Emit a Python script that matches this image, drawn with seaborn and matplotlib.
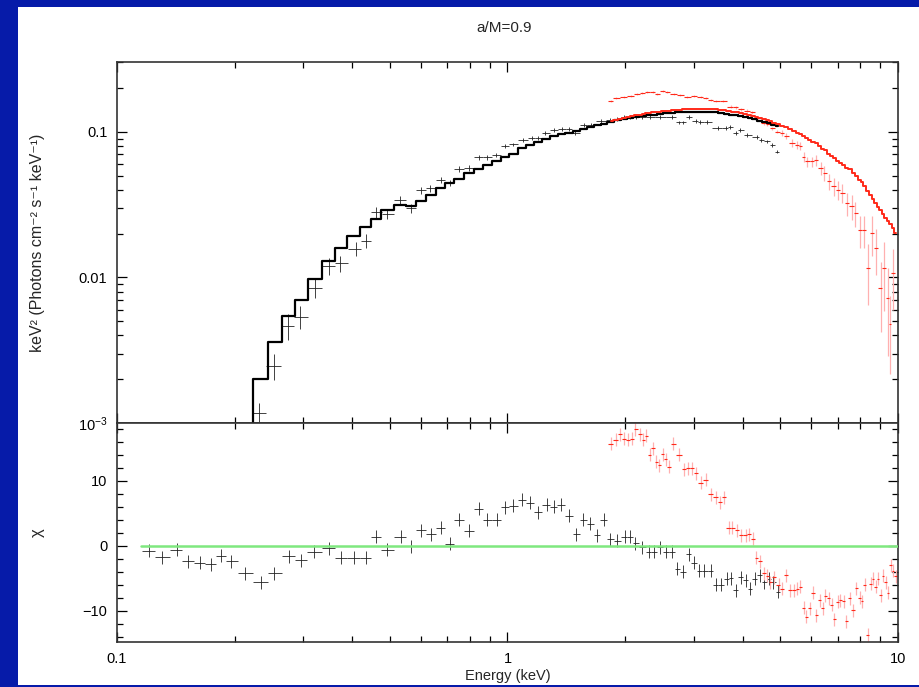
import numpy as np
import pandas as pd
import matplotlib
matplotlib.use("Agg")
import matplotlib.pyplot as plt
import seaborn as sns
from matplotlib.patches import Rectangle
from matplotlib.ticker import FixedLocator, FixedFormatter, LogLocator, NullFormatter, MultipleLocator

# ---------------- data ----------------
title_text = "a/M=0.9"

# black spectrum: unfolded data points (top panel)
black_E = [0.231, 0.252, 0.274, 0.295, 0.321, 0.349, 0.373, 0.409, 0.435, 0.460,
           0.492, 0.532, 0.565, 0.599, 0.635, 0.676, 0.712, 0.751, 0.796, 0.845,
           0.887, 0.937, 0.984, 1.034, 1.097, 1.157, 1.196, 1.251, 1.314, 1.381,
           1.436, 1.493, 1.568, 1.638, 1.738, 1.83, 1.91, 1.99, 2.06, 2.13,
           2.21, 2.32, 2.46, 2.64, 2.75, 2.82, 2.91, 3.03, 3.12, 3.25,
           3.45, 3.62, 3.72, 3.84, 3.95, 4.11, 4.36, 4.45, 4.62, 4.77, 4.90]
black_flux = [0.00117, 0.00247, 0.00464, 0.00538, 0.00849, 0.0120, 0.0125, 0.0157, 0.0179, 0.0280,
              0.0274, 0.0339, 0.0300, 0.0397, 0.0410, 0.0469, 0.0445, 0.0558, 0.0564, 0.0671,
              0.0671, 0.0696, 0.0800, 0.0820, 0.0881, 0.0905, 0.0910, 0.0980, 0.1030, 0.1050,
              0.1050, 0.0980, 0.1117, 0.1117, 0.1195, 0.121, 0.123, 0.126, 0.127, 0.127,
              0.126, 0.126, 0.127, 0.127, 0.116, 0.116, 0.127, 0.1195, 0.117, 0.117,
              0.106, 0.107, 0.108, 0.098, 0.103, 0.0954, 0.092, 0.088, 0.086, 0.0815, 0.0733]
black_relerr = [0.17, 0.20, 0.20, 0.18, 0.15, 0.13, 0.13, 0.11, 0.11, 0.08,
                0.08, 0.07, 0.07, 0.06, 0.06, 0.05, 0.05, 0.045, 0.045, 0.04,
                0.04, 0.035, 0.035, 0.03, 0.03, 0.03, 0.03, 0.03, 0.03, 0.03,
                0.03, 0.03, 0.03, 0.03, 0.03, 0.03, 0.03, 0.03, 0.03, 0.03,
                0.03, 0.03, 0.03, 0.03, 0.03, 0.03, 0.03, 0.03, 0.03, 0.03,
                0.03, 0.03, 0.03, 0.03, 0.03, 0.03, 0.03, 0.03, 0.03, 0.03, 0.03]

# black spectrum: residual bins (bottom panel) and folded model (top panel)
black_bin_E = [0.1206, 0.1305, 0.1426, 0.1518, 0.1629, 0.1736, 0.1848, 0.1953, 0.2121, 0.2331,
               0.2531, 0.2754, 0.2951, 0.3204, 0.3486, 0.3736, 0.4042, 0.4329, 0.4592, 0.4919,
               0.5321, 0.5645, 0.5988, 0.6351, 0.6738, 0.7115, 0.7503, 0.7962, 0.8444, 0.8871,
               0.9372, 0.984, 1.034, 1.091, 1.141, 1.196, 1.259, 1.314, 1.372, 1.435,
               1.502, 1.563, 1.625, 1.697, 1.764, 1.828, 1.910, 1.994, 2.057, 2.127,
               2.213, 2.301, 2.370, 2.455, 2.539, 2.641, 2.720, 2.818, 2.912, 3.000,
               3.102, 3.195, 3.311, 3.410, 3.512, 3.638, 3.725, 3.837, 3.951, 4.069,
               4.174, 4.291, 4.428, 4.551, 4.669, 4.792, 4.923]
black_chi = [-0.76, -1.78, -0.6, -2.4, -2.6, -2.8, -1.5, -2.4, -4.2, -5.6,
             -4.2, -1.6, -2.2, -0.9, -0.35, -1.8, -1.8, -1.8, 1.4, -0.6,
             1.4, -0.1, 2.4, 1.8, 2.8, 0.35, 4.0, 2.3, 5.7, 4.0,
             4.0, 5.9, 6.2, 7.1, 6.6, 5.2, 6.3, 6.0, 6.3, 4.6,
             1.8, 4.0, 3.4, 1.6, 4.0, 1.0, 0.76, 1.4, 1.4, 0.4,
             -0.25, -0.9, -0.9, -0.25, -0.9, -0.9, -3.55, -3.96, -1.27, -2.64,
             -3.8, -3.8, -3.8, -6.0, -6.0, -5.1, -5.0, -6.85, -4.8, -5.3,
             -6.6, -5.1, -4.5, -5.6, -5.1, -5.6, -7.1]
# model from bin 9 (0.2121 keV) onward
black_model = [0.0005, 0.0020, 0.0036, 0.00543, 0.0070, 0.0097, 0.0129, 0.0159, 0.0194, 0.0221,
               0.0252, 0.0289, 0.0313, 0.0308, 0.0337, 0.037, 0.041, 0.0445, 0.0476, 0.052,
               0.0558, 0.0594, 0.0626, 0.0667, 0.0703, 0.077, 0.081, 0.085, 0.089, 0.093,
               0.096, 0.099, 0.102, 0.105, 0.108, 0.111, 0.114, 0.117, 0.120, 0.122,
               0.124, 0.126, 0.128, 0.130, 0.131, 0.133, 0.134, 0.135, 0.136, 0.137,
               0.1375, 0.138, 0.138, 0.1375, 0.137, 0.136, 0.135, 0.133, 0.1315, 0.130,
               0.128, 0.126, 0.124, 0.122, 0.1195, 0.117, 0.1145, 0.112, 0.109]

# red spectrum: unfolded data points (top panel)
red_E = [1.836, 1.891, 1.986, 2.066, 2.148, 2.213, 2.279, 2.361, 2.416, 2.499,
         2.565, 2.664, 2.773, 2.885, 3.000, 3.121, 3.214, 3.311, 3.428, 3.566,
         3.725, 3.837, 3.951, 4.110, 4.233, 4.360, 4.535, 4.624, 4.763, 4.907,
         5.052, 5.152, 5.358, 5.519, 5.627, 5.738, 5.851, 6.024, 6.152, 6.347,
         6.475, 6.649, 6.853, 7.011, 7.196, 7.402, 7.619, 7.773, 7.983, 8.172,
         8.369, 8.588, 8.758, 9.020, 9.198, 9.417, 9.527, 9.721]
red_flux = [0.164, 0.170, 0.173, 0.1765, 0.181, 0.184, 0.189, 0.187, 0.182, 0.191,
            0.187, 0.182, 0.179, 0.174, 0.176, 0.173, 0.172, 0.166, 0.162, 0.162,
            0.149, 0.148, 0.143, 0.140, 0.136, 0.124, 0.115, 0.113, 0.106, 0.1005,
            0.0985, 0.094, 0.0837, 0.0815, 0.080, 0.0677, 0.0626, 0.0626, 0.064, 0.0564,
            0.052, 0.0457, 0.0422, 0.040, 0.038, 0.0324, 0.0308, 0.0277, 0.0213, 0.0213,
            0.0117, 0.0202, 0.016, 0.0085, 0.0117, 0.0072, 0.0048, 0.0108]
red_relerr = [0.015] * 20 + [0.025] * 10 + \
             [0.05, 0.05, 0.06, 0.06, 0.06, 0.08, 0.08, 0.08, 0.09, 0.10,
              0.12, 0.13, 0.14, 0.15, 0.15, 0.18, 0.20, 0.20, 0.25, 0.25,
              0.45, 0.30, 0.35, 0.50, 0.50, 0.60, 0.55, 0.45]

# red spectrum: residual bins (bottom panel) and folded model (top panel)
red_bin_E = [1.836, 1.891, 1.939, 1.986, 2.033, 2.078, 2.127, 2.182, 2.226, 2.266,
             2.314, 2.361, 2.407, 2.440, 2.498, 2.539, 2.589, 2.657, 2.757, 2.828,
             2.895, 2.972, 3.030, 3.121, 3.214, 3.311, 3.410, 3.491, 3.581, 3.688,
             3.763, 3.875, 3.967, 4.069, 4.149, 4.248, 4.341, 4.428, 4.533, 4.624,
             4.715, 4.808, 4.951, 5.052, 5.172, 5.283, 5.410, 5.519, 5.627, 5.738,
             5.830, 5.943, 6.063, 6.182, 6.304, 6.431, 6.519, 6.649, 6.783, 6.876,
             7.011, 7.124, 7.264, 7.381, 7.526, 7.678, 7.829, 7.983, 8.096, 8.222,
             8.369, 8.504, 8.640, 8.758, 8.899, 9.020, 9.165, 9.290, 9.417, 9.568,
             9.721, 9.854]
red_chi = [15.7, 16.3, 17.2, 16.5, 16.3, 16.5, 17.9, 17.2, 16.3, 16.9,
           14.0, 15.0, 12.9, 12.4, 14.1, 13.3, 12.2, 15.7, 14.0, 11.8,
           11.9, 11.9, 11.2, 9.7, 10.2, 7.9, 7.5, 6.7, 7.5, 2.8,
           2.8, 2.4, 1.6, 1.6, 1.8, 1.1, -1.8, -2.4, -4.2, -4.6,
           -5.6, -4.8, -6.0, -6.6, -4.5, -6.85, -6.85, -6.6, -6.3, -9.5,
           -10.9, -9.6, -7.2, -10.7, -8.4, -9.6, -7.7, -8.1, -9.1, -11.3,
           -8.6, -8.4, -8.5, -11.6, -8.1, -9.9, -6.5, -8.0, -8.5, -6.0,
           -13.7, -5.8, -5.1, -6.3, -5.1, -7.6, -4.6, -5.6, -7.2, -3.0,
           -3.8, -4.7]
red_model = [0.118, 0.120, 0.122, 0.124, 0.126, 0.128, 0.130, 0.131, 0.1325, 0.134,
             0.135, 0.136, 0.137, 0.138, 0.139, 0.1395, 0.140, 0.141, 0.142, 0.1428,
             0.1433, 0.1437, 0.1437, 0.1437, 0.1435, 0.143, 0.1425, 0.142, 0.141, 0.1395,
             0.138, 0.136, 0.1345, 0.1328, 0.1315, 0.129, 0.127, 0.125, 0.1225, 0.120,
             0.118, 0.1158, 0.1125, 0.1105, 0.108, 0.105, 0.102, 0.099, 0.096, 0.093,
             0.0905, 0.0877, 0.0857, 0.0838, 0.080, 0.0765, 0.0745, 0.071, 0.068, 0.066,
             0.0635, 0.0613, 0.059, 0.0568, 0.0552, 0.0525, 0.050, 0.047, 0.045, 0.0425,
             0.039, 0.0368, 0.0345, 0.0325, 0.0305, 0.029, 0.0272, 0.0258, 0.0245, 0.0232,
             0.0219, 0.0202]

zero_line_E = [0.115, 10.0]
zero_line_chi = [0.0, 0.0]

# ---------------- styling ----------------
sns.set_style("ticks")
plt.rcParams['font.family'] = ['Liberation Sans', 'DejaVu Sans']
plt.rcParams['mathtext.fontset'] = 'custom'
plt.rcParams['mathtext.rm'] = 'Liberation Sans'
plt.rcParams['mathtext.it'] = 'Liberation Sans:italic'

FRAME_BLUE = '#061ba9'
RED = '#ff2a1a'
PINK = '#ffb0b0'
DATA_BLACK = '#222222'


def half_widths(E):
    E = np.asarray(E, float)
    lg = np.log10(E)
    d = np.diff(lg)
    left = np.r_[d[0], d] / 2
    right = np.r_[d, d[-1]] / 2
    return np.vstack([E - 10 ** (lg - left), 10 ** (lg + right) - E])


fig = plt.figure(figsize=(9.19, 6.87), dpi=100)
fig.patch.set_facecolor('white')
W, H = 919.0, 687.0
left, right = 117 / W, 898 / W
ax1 = fig.add_axes([left, 1 - 423 / H, right - left, (423 - 62) / H])
ax2 = fig.add_axes([left, 1 - 642 / H, right - left, (642 - 423) / H], sharex=ax1)

# --- top panel ---
bE = np.array(black_E)
bF = np.array(black_flux)
ax1.errorbar(bE, bF, xerr=half_widths(bE), fmt='none', ecolor=DATA_BLACK, elinewidth=0.6, zorder=2)
ax1.errorbar(bE, bF, yerr=bF * np.array(black_relerr), fmt='none', ecolor=DATA_BLACK, elinewidth=0.6, zorder=2)

rE = np.array(red_E)
rF = np.array(red_flux)
ax1.errorbar(rE, rF, yerr=rF * np.array(red_relerr), fmt='none', ecolor=PINK, elinewidth=0.9, zorder=2)
ax1.errorbar(rE, rF, xerr=half_widths(rE), fmt='none', ecolor=RED, elinewidth=0.8, zorder=2.5)

bm = pd.DataFrame({'E': black_bin_E[8:], 'model': black_model})
rm = pd.DataFrame({'E': red_bin_E, 'model': red_model})
sns.lineplot(data=bm, x='E', y='model', ax=ax1, color='black', lw=1.6,
             drawstyle='steps-mid', estimator=None, sort=False, zorder=3)
sns.lineplot(data=rm, x='E', y='model', ax=ax1, color=RED, lw=1.4,
             drawstyle='steps-mid', estimator=None, sort=False, zorder=4)

ax1.set_xscale('log')
ax1.set_yscale('log')
ax1.set_xlim(0.1, 10)
ax1.set_ylim(1e-3, 0.302)
ax1.yaxis.set_major_locator(FixedLocator([1e-3, 1e-2, 1e-1]))
ax1.yaxis.set_major_formatter(FixedFormatter([r'$10^{-3}$', '0.01', '0.1']))
ax1.yaxis.set_minor_locator(LogLocator(base=10, subs=np.arange(2, 10), numticks=20))
ax1.yaxis.set_minor_formatter(NullFormatter())
ax1.set_ylabel('keV² (Photons cm⁻² s⁻¹ keV⁻¹)', fontsize=11.5)
ax1.yaxis.set_label_coords(-0.092, 0.5)
ax1.set_xlabel('')
ax1.tick_params(axis='x', which='both', labelbottom=False)

# --- bottom panel ---
bbE = np.array(black_bin_E)
ax2.errorbar(bbE, black_chi, xerr=half_widths(bbE), yerr=1.0, fmt='none',
             ecolor=DATA_BLACK, elinewidth=0.6, zorder=2)
rbE = np.array(red_bin_E)
ax2.errorbar(rbE, red_chi, yerr=1.0, fmt='none', ecolor=PINK, elinewidth=0.9, zorder=2)
ax2.errorbar(rbE, red_chi, xerr=half_widths(rbE), fmt='none', ecolor=RED, elinewidth=0.8, zorder=2.5)
sns.lineplot(x=zero_line_E, y=zero_line_chi, ax=ax2, color='#7fe87f', lw=1.8, zorder=5)

ax2.set_xscale('log')
ax2.set_xlim(0.1, 10)
ax2.set_ylim(-14.8, 18.9)
ax2.yaxis.set_major_locator(FixedLocator([-10, 0, 10]))
ax2.yaxis.set_minor_locator(MultipleLocator(2))
ax2.xaxis.set_major_locator(FixedLocator([0.1, 1, 10]))
ax2.xaxis.set_major_formatter(FixedFormatter(['0.1', '1', '10']))
ax2.xaxis.set_minor_locator(LogLocator(base=10, subs=np.arange(2, 10), numticks=20))
ax2.xaxis.set_minor_formatter(NullFormatter())
ax2.set_ylabel('χ', fontsize=12)
ax2.yaxis.set_label_coords(-0.092, 0.5)
ax2.set_xlabel('Energy (keV)', fontsize=10.5)
ax2.xaxis.set_label_coords(0.5, -0.125)

for ax in (ax1, ax2):
    ax.tick_params(which='both', direction='in', top=True, right=True,
                   colors='black', labelsize=10.5, width=0.9)
    ax.tick_params(which='major', length=7, pad=7)
    ax.tick_params(which='minor', length=4)
    for s in ax.spines.values():
        s.set_visible(True)
        s.set_linewidth(1.2)
        s.set_color('#333333')
    ax.set_facecolor('white')

fig.text(504 / W, 1 - 28 / H, title_text, ha='center', va='center', fontsize=11)

# blue frame of the slide
fig.patches.append(Rectangle((0, 0), 18 / W, 1, transform=fig.transFigure,
                             facecolor=FRAME_BLUE, edgecolor='none', zorder=10))
fig.patches.append(Rectangle((0, 1 - 7 / H), 1, 7 / H, transform=fig.transFigure,
                             facecolor=FRAME_BLUE, edgecolor='none', zorder=10))
fig.patches.append(Rectangle((0, 0), 1, 2 / H, transform=fig.transFigure,
                             facecolor=FRAME_BLUE, edgecolor='none', zorder=10))

fig.savefig('out.png', dpi=100)
